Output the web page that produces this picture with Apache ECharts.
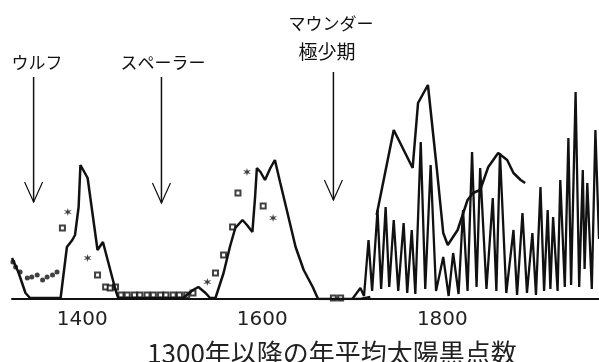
<!DOCTYPE html>
<html>
<head>
<meta charset="utf-8">
<script src="https://cdn.jsdelivr.net/npm/echarts@6/dist/echarts.min.js"></script>
<style>
  html, body { margin: 0; padding: 0; background: #fff; }
  #chart { width: 599px; height: 362px; }
</style>
</head>
<body>
<div id="chart"></div>
<script>
// decadal reconstruction (thick line, 1322-1720)
const reconYears = [1322,1329,1337,1342,1376,1378,1383,1389,1392,1396,1398,1406,1417,1423,1437,1440,1512,1523,1529,1537,1542,1548,1557,1564,1570,1578,1583,1589,1592,1594,1598,1603,1609,1614,1620,1628,1637,1646,1656,1662,1709,1720];
const reconValues = [41,27,6,1,1,2,52,59,64,92,134,121,49,57,9,1,1,9,12,6,1,1,26,52,71,79,74,67,102,131,127,119,131,139,116,86,52,29,12,0,0,2];

// smoothed curve 1727-1892 (thick line)
const smoothYears = [1727,1746,1767,1773,1784,1794,1801,1806,1817,1828,1834,1842,1851,1862,1872,1879,1887,1892];
const smoothValues = [84,169,131,196,214,129,66,54,69,99,106,109,132,146,139,126,119,116];

// yearly sunspot numbers (thin line)
const yearlyYears = [1700,1709,1713,1718,1722,1728,1732,1737,1741,1746,1751,1757,1761,1766,1770,1776,1781,1787,1793,1801,1807,1812,1818,1823,1828,1833,1838,1842,1849,1856,1860,1864,1871,1879,1883,1889,1894,1900,1904,1909,1913,1917,1920,1923,1928,1931,1936,1940,1943,1948,1952,1956,1958,1961,1966,1970,1974];
const yearlyValues = [0,11,3,59,8,89,10,92,12,79,8,76,6,69,5,157,10,134,8,42,3,46,5,89,8,147,12,131,10,101,8,146,6,69,4,86,6,66,4,112,8,89,10,82,8,119,12,161,14,207,12,129,30,116,10,169,60];

// marker series
const dotYears = [1323,1326,1331,1339,1344,1350,1356,1361,1367,1372];
const dotValues = [37,32,27,21,22,24,19,22,24,27];
const starYears = [1384,1406,1539,1583,1612];
const starValues = [87,41,17,127,81];
const squareYears = [1378,1417,1426,1431,1437,1443,1450,1458,1464,1472,1479,1487,1493,1501,1508,1516,1523,1548,1557,1567,1573,1601,1679,1687];
const squareValues = [71,24,12,11,12,4,4,4,4,4,4,4,4,4,4,4,6,26,44,72,106,93,1,1];

// arrows: year, top of shaft, tip
const arrowYears = [1346,1488,1679];
const arrowTops = [222,222,227];
const arrowTips = [97,96,99];

const tickYears = [1400,1600,1800];

const pairs = (xs, ys) => xs.map((x, i) => [x, ys[i]]);

const chart = echarts.init(document.getElementById('chart'));
const ink = '#111';

chart.setOption({
  animation: false,
  grid: { left: 12, right: 0, top: 0, bottom: 63 },
  xAxis: {
    type: 'value',
    min: 1322,
    max: 1974,
    axisLine: { show: true, lineStyle: { color: ink, width: 2 } },
    axisTick: { show: false },
    splitLine: { show: false },
    axisLabel: {
      customValues: tickYears,
      formatter: v => String(v),
      fontSize: 20,
      fontFamily: 'DejaVu Sans',
      color: '#222',
      margin: 11
    }
  },
  yAxis: { type: 'value', min: 0, max: 299, show: false },
  series: [
    {
      type: 'line', data: pairs(yearlyYears, yearlyValues), showSymbol: false,
      lineStyle: { color: ink, width: 2.3 }
    },
    {
      type: 'line', data: pairs(reconYears, reconValues), showSymbol: false,
      lineStyle: { color: ink, width: 2.5 }
    },
    {
      type: 'line', data: pairs(smoothYears, smoothValues), showSymbol: false,
      lineStyle: { color: ink, width: 2.5 }
    },
    {
      type: 'scatter', data: pairs(dotYears, dotValues), symbol: 'circle', symbolSize: 5,
      itemStyle: { color: ink }
    },
    {
      type: 'scatter', data: pairs(squareYears, squareValues), symbol: 'emptyRect', symbolSize: 5,
      itemStyle: { color: ink, borderWidth: 1 }
    },
    {
      type: 'scatter', data: pairs(starYears, starValues),
      symbol: 'path://M5,0 L6,3.5 L10,2.5 L7,5 L10,7.5 L6,6.5 L5,10 L4,6.5 L0,7.5 L3,5 L0,2.5 L4,3.5 Z',
      symbolSize: 8, itemStyle: { color: ink }
    },
    {
      type: 'custom',
      data: arrowYears.map((y, i) => [y, arrowTops[i], arrowTips[i]]),
      renderItem: function (params, api) {
        const top = api.coord([api.value(0), api.value(1)]);
        const tip = api.coord([api.value(0), api.value(2)]);
        return {
          type: 'group',
          children: [
            { type: 'line', shape: { x1: top[0], y1: top[1], x2: tip[0], y2: tip[1] },
              style: { stroke: ink, lineWidth: 1.5 } },
            { type: 'polyline',
              shape: { points: [[tip[0] - 9, tip[1] - 20], [tip[0], tip[1]], [tip[0] + 9, tip[1] - 20]] },
              style: { stroke: ink, fill: null, lineWidth: 1.2 } }
          ]
        };
      }
    }
  ],
  graphic: [
    { type: 'text', x: 37, y: 63, style: { text: 'ウルフ', fontSize: 17, fontFamily: 'Noto Sans CJK JP', fill: ink, align: 'center', verticalAlign: 'middle' } },
    { type: 'text', x: 163, y: 63, style: { text: 'スペーラー', fontSize: 17, fontFamily: 'Noto Sans CJK JP', fill: ink, align: 'center', verticalAlign: 'middle' } },
    { type: 'text', x: 331, y: 24, style: { text: 'マウンダー', fontSize: 17, fontFamily: 'Noto Sans CJK JP', fill: ink, align: 'center', verticalAlign: 'middle' } },
    { type: 'text', x: 327, y: 52, style: { text: '極少期', fontSize: 19, fontFamily: 'Noto Sans CJK JP', fill: ink, align: 'center', verticalAlign: 'middle' } },
    { type: 'text', x: 332, y: 340, style: { text: '1300年以降の年平均太陽黒点数', fontSize: 26, fontFamily: 'Noto Sans CJK JP', fill: '#222', align: 'center', verticalAlign: 'top' } }
  ]
});
</script>
</body>
</html>
